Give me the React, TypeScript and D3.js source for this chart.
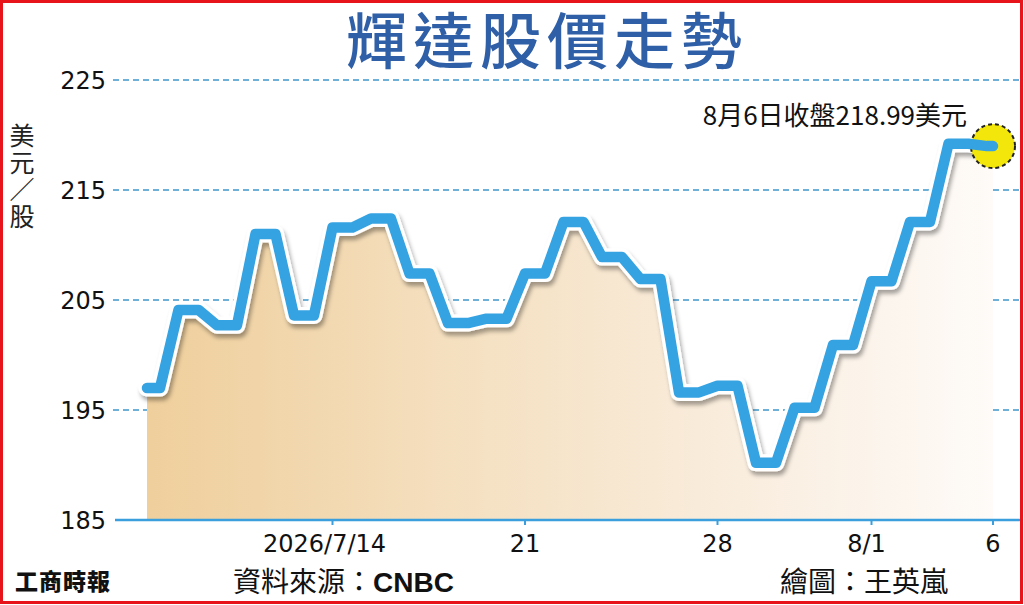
import * as d3 from 'd3';

// trading days shown on the chart
const dates = ['7/7', '7/8', '7/9', '7/10', '7/11', '7/14', '7/15', '7/16', '7/17', '7/18', '7/21', '7/22',
  '7/23', '7/24', '7/25', '7/28', '7/29', '7/30', '7/31', '8/1', '8/4', '8/5', '8/6'];
const prices = [197.0, 204.1, 202.7, 211.0, 203.6, 211.6, 212.4, 207.4, 202.9, 203.3, 207.4, 212.1,
  208.9, 206.9, 196.6, 197.2, 190.2, 195.2, 200.9, 206.7, 212.1, 219.2, 218.99];

const tickDates = ['7/14', '7/21', '7/28', '8/1', '8/6'];
const tickLabels = ['2026/7/14', '21', '28', '8/1', '6'];
const yTicks = [185, 195, 205, 215, 225];

const W = 1024;
const H = 605;
const CJK = '"Noto Sans CJK TC", "Noto Sans", sans-serif';
const NUM = '"DejaVu Sans", sans-serif';

export default function App() {
  const xStart = 147;
  const xEnd = 993;
  const plateau = 20;

  const x = d3.scaleLinear().domain([0, dates.length - 1]).range([140, 987]);
  const y = d3.scaleLinear().domain([185, 225]).range([520, 80]);

  // each day is drawn as a short flat step, like the print graphic
  const pts: [number, number][] = [];
  prices.forEach((v, i) => {
    const a = Math.max(x(i), xStart);
    const b = Math.min(x(i) + plateau, xEnd);
    pts.push([a, y(v)]);
    pts.push([b, y(v)]);
  });

  const line = d3.line<[number, number]>().x(d => d[0]).y(d => d[1]);
  const area = d3.area<[number, number]>().x(d => d[0]).y0(y(185)).y1(d => d[1]);

  const last = prices.length - 1;
  const tickX = (label: string) => {
    const i = dates.indexOf(label);
    return i === last ? xEnd : x(i);
  };

  return (
    <div style={{ position: 'absolute', left: 0, top: 0 }}>
      <svg width={W} height={H} style={{ display: 'block', background: '#fff' }}>
        <defs>
          <linearGradient id="fill" x1="0" x2="1" y1="0" y2="0">
            <stop offset="0" stopColor="#efcf9c" />
            <stop offset="0.4" stopColor="#f5e1c3" />
            <stop offset="0.75" stopColor="#faefe2" />
            <stop offset="1" stopColor="#fefbf8" />
          </linearGradient>
          <filter id="shadow" x="-5%" y="-5%" width="110%" height="120%">
            <feDropShadow dx="2" dy="4" stdDeviation="2" floodColor="#000" floodOpacity="0.35" />
          </filter>
        </defs>

        {/* title */}
        <text x={547} y={64} textAnchor="middle" fontFamily={CJK} fontSize={61} fontWeight={500}
          fill="#2f5fa7" letterSpacing={6}>輝達股價走勢</text>

        {/* grid */}
        {yTicks.slice(1).map(t => (
          <line key={t} x1={113} x2={1020} y1={y(t)} y2={y(t)} stroke="#3f97cc"
            strokeWidth={1.6} strokeDasharray="6,4" />
        ))}

        {/* y labels */}
        {yTicks.map(t => (
          <text key={t} x={106} y={y(t) + 9} textAnchor="end" fontFamily={NUM} fontSize={24}
            fill="#111">{t}</text>
        ))}

        {/* unit, set vertically */}
        <text x={22} y={123} fontFamily={CJK} fontSize={25} fill="#222" letterSpacing={2}
          style={{ writingMode: 'vertical-rl', textOrientation: 'upright' }}>美元／股</text>

        {/* area + line */}
        <path d={area(pts) ?? ''} fill="url(#fill)" />
        <path d={line(pts) ?? ''} fill="none" stroke="#fff" strokeWidth={17} strokeLinejoin="round"
          strokeLinecap="round" filter="url(#shadow)" />

        {/* x axis */}
        <line x1={115} x2={1020} y1={y(185)} y2={y(185)} stroke="#3a9fdc" strokeWidth={2.5} />
        {tickDates.map((d, i) => (
          <g key={d}>
            <line x1={tickX(d)} x2={tickX(d)} y1={y(185)} y2={y(185) + 5} stroke="#3a9fdc" strokeWidth={2} />
            <text x={tickX(d) - (i === 0 ? 8 : i === 3 ? 5 : 0)} y={552} textAnchor="middle"
              fontFamily={NUM} fontSize={24} fill="#111">{tickLabels[i]}</text>
          </g>
        ))}

        {/* closing marker */}
        <circle cx={xEnd} cy={y(prices[last])} r={22} fill="#f2e60a" stroke="#222" strokeWidth={2}
          strokeDasharray="4,3" />
        <path d={line(pts) ?? ''} fill="none" stroke="#35a2e2" strokeWidth={10.5} strokeLinejoin="round"
          strokeLinecap="round" />

        <text x={967} y={125} textAnchor="end" fontFamily={CJK} fontSize={26} fill="#111">
          8月6日收盤218.99美元
        </text>

        {/* footer */}
        <text x={15} y={590} fontFamily={CJK} fontSize={23} fontWeight={900} fill="#111"
          letterSpacing={1}>工商時報</text>
        <text x={233} y={592} fontFamily={CJK} fontSize={28} fill="#111">
          資料來源：<tspan fontFamily='"Liberation Sans", sans-serif' fontWeight={700}>CNBC</tspan>
        </text>
        <text x={780} y={592} fontFamily={CJK} fontSize={28} fill="#111">繪圖：王英嵐</text>

        {/* frame */}
        <rect x={1.5} y={1.5} width={1020} height={601} fill="none" stroke="#e8141b" strokeWidth={3} />
      </svg>
    </div>
  );
}
